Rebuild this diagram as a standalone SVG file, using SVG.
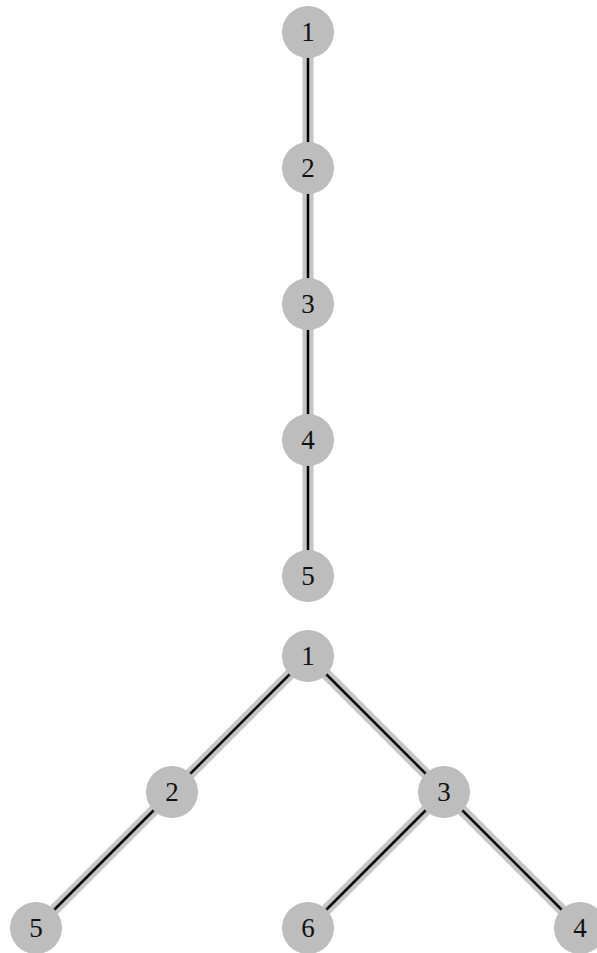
<svg xmlns="http://www.w3.org/2000/svg" width="597" height="953" viewBox="0 0 597 953">
<style>
.bg{stroke:#c6c6c6;stroke-width:11;fill:none}
.fg{stroke:#000;stroke-width:2.5;fill:none}
.n circle{fill:#bdbdbd}
.n text{font-family:"Liberation Serif",serif;font-size:27px;text-anchor:middle;dominant-baseline:central;fill:#111}
</style>
<rect width="597" height="953" fill="#fff"/>
<g id="connectors">
<g class="bg">
<line x1="308" y1="32" x2="308" y2="168"/>
<line x1="308" y1="168" x2="308" y2="304"/>
<line x1="308" y1="304" x2="308" y2="440"/>
<line x1="308" y1="440" x2="308" y2="576"/>
<line x1="308" y1="656" x2="172" y2="792"/>
<line x1="308" y1="656" x2="444" y2="792"/>
<line x1="172" y1="792" x2="36" y2="928"/>
<line x1="444" y1="792" x2="308" y2="928"/>
<line x1="444" y1="792" x2="580" y2="928"/>
</g>
<g class="fg">
<line x1="308" y1="32" x2="308" y2="168"/>
<line x1="308" y1="168" x2="308" y2="304"/>
<line x1="308" y1="304" x2="308" y2="440"/>
<line x1="308" y1="440" x2="308" y2="576"/>
<line x1="308" y1="656" x2="172" y2="792"/>
<line x1="308" y1="656" x2="444" y2="792"/>
<line x1="172" y1="792" x2="36" y2="928"/>
<line x1="444" y1="792" x2="308" y2="928"/>
<line x1="444" y1="792" x2="580" y2="928"/>
</g>
</g>
<g id="a1" class="n"><circle cx="308" cy="32" r="26"/><text x="308" y="32">1</text></g>
<g id="a2" class="n"><circle cx="308" cy="168" r="26"/><text x="308" y="168">2</text></g>
<g id="a3" class="n"><circle cx="308" cy="304" r="26"/><text x="308" y="304">3</text></g>
<g id="a4" class="n"><circle cx="308" cy="440" r="26"/><text x="308" y="440">4</text></g>
<g id="a5" class="n"><circle cx="308" cy="576" r="26"/><text x="308" y="576">5</text></g>
<g id="b1" class="n"><circle cx="308" cy="656" r="26"/><text x="308" y="656">1</text></g>
<g id="b2" class="n"><circle cx="172" cy="792" r="26"/><text x="172" y="792">2</text></g>
<g id="b3" class="n"><circle cx="444" cy="792" r="26"/><text x="444" y="792">3</text></g>
<g id="b5" class="n"><circle cx="36" cy="928" r="26"/><text x="36" y="928">5</text></g>
<g id="b6" class="n"><circle cx="308" cy="928" r="26"/><text x="308" y="928">6</text></g>
<g id="b4" class="n"><circle cx="580" cy="928" r="26"/><text x="580" y="928">4</text></g>
</svg>
